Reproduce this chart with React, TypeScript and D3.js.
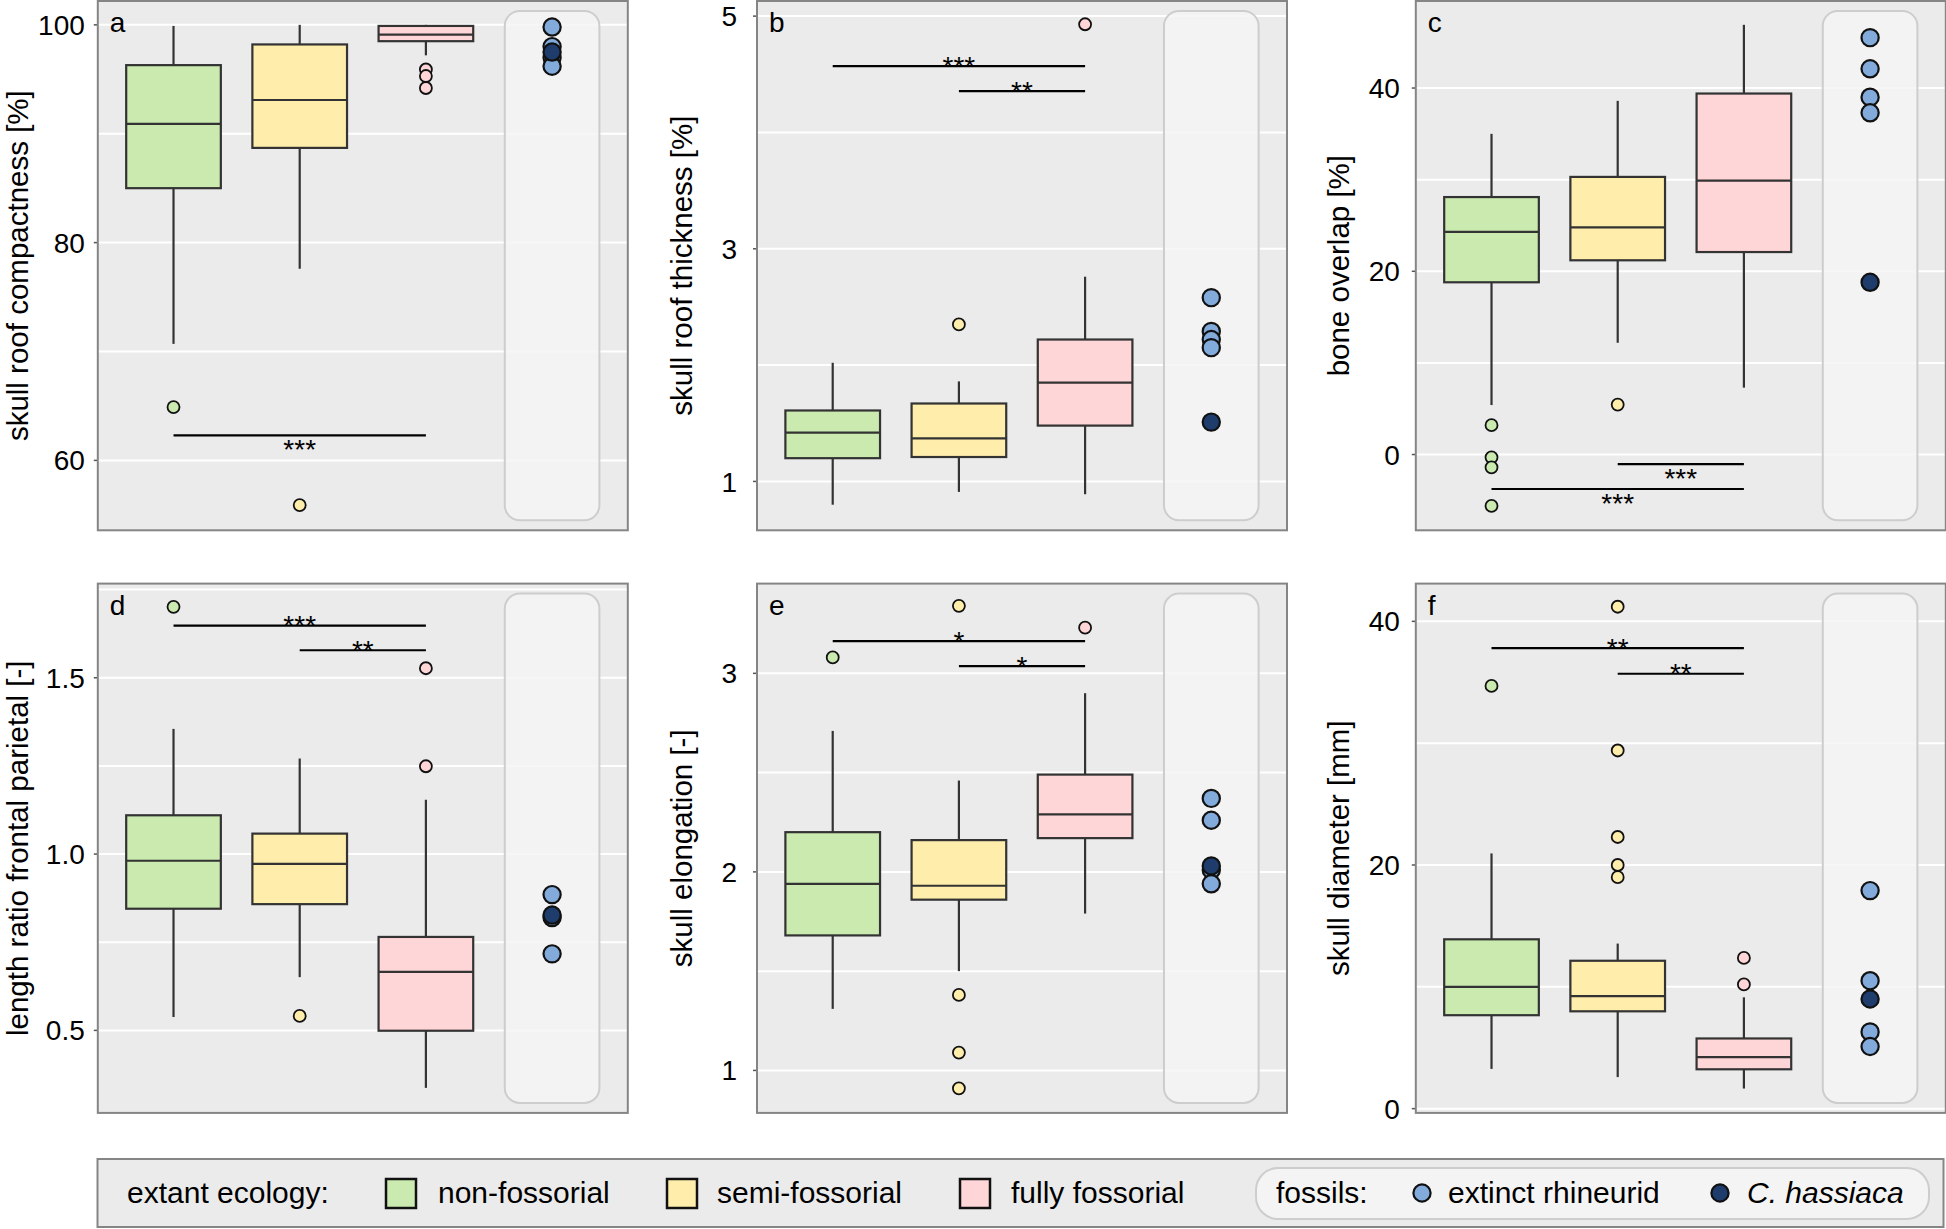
import React from 'react';
import * as d3 from 'd3';

// ---------- data ----------
const groupNames = ['non-fossorial', 'semi-fossorial', 'fully fossorial'];
const groupFills = ['#CAEAB0', '#FFEDAB', '#FFD6D8'];
const extinctColor = '#82AADB';
const hassiacaColor = '#1E3C6C';

const panelLetters = ['a', 'b', 'c', 'd', 'e', 'f'];
const yTitles = [
  'skull roof compactness [%]',
  'skull roof thickness [%]',
  'bone overlap [%]',
  'length ratio frontal parietal [-]',
  'skull elongation [-]',
  'skull diameter [mm]',
];
const yDomains = [
  [53.58, 102.19],
  [0.58, 5.13],
  [-8.27, 49.5],
  [0.266, 1.767],
  [0.786, 3.452],
  [-0.35, 43.1],
];
const yTicks = [
  [60, 80, 100],
  [1, 3, 5],
  [0, 20, 40],
  [0.5, 1.0, 1.5],
  [1, 2, 3],
  [0, 20, 40],
];
const yTickLabels = [
  ['60', '80', '100'],
  ['1', '3', '5'],
  ['0', '20', '40'],
  ['0.5', '1.0', '1.5'],
  ['1', '2', '3'],
  ['0', '20', '40'],
];
const yGrid = [
  [60, 70, 80, 90, 100],
  [1, 2, 3, 4, 5],
  [0, 10, 20, 30, 40],
  [0.5, 0.75, 1, 1.25, 1.5, 1.75],
  [1, 1.5, 2, 2.5, 3],
  [0, 10, 20, 30, 40],
];

// box stats per group: [lower whisker, q1, median, q3, upper whisker]
const boxA = [[70.7, 85.0, 90.9, 96.3, 99.9], [77.6, 88.7, 93.1, 98.2, 100.0], [97.2, 98.5, 99.1, 99.9, 100.0]];
const boxB = [[0.80, 1.20, 1.42, 1.61, 2.02], [0.91, 1.21, 1.37, 1.67, 1.86], [0.89, 1.48, 1.85, 2.22, 2.76]];
const boxC = [[5.4, 18.8, 24.3, 28.1, 35.0], [12.2, 21.2, 24.8, 30.3, 38.6], [7.3, 22.1, 29.9, 39.4, 46.9]];
const boxD = [[0.538, 0.845, 0.981, 1.110, 1.355], [0.651, 0.858, 0.972, 1.058, 1.271], [0.337, 0.499, 0.666, 0.765, 1.154]];
const boxE = [[1.31, 1.68, 1.94, 2.20, 2.71], [1.50, 1.86, 1.93, 2.16, 2.46], [1.79, 2.17, 2.29, 2.49, 2.90]];
const boxF = [[3.26, 7.67, 10.0, 13.9, 20.95], [2.59, 7.99, 9.23, 12.14, 13.55], [1.65, 3.23, 4.23, 5.76, 9.14]];

const outA = [[64.9], [55.9], [95.9, 95.3, 94.2]];
const outB = [[], [2.35], [4.93]];
const outC = [[3.2, -0.3, -1.4, -5.6], [5.45], []];
const outD = [[1.701], [0.541], [1.527, 1.249]];
const outE = [[3.08], [3.34, 1.38, 1.09, 0.91], [3.23]];
const outF = [[34.7], [41.2, 29.4, 22.3, 20.0, 19.0], [12.37, 10.2]];

const extinctA = [99.8, 98.0, 97.0, 96.2];
const extinctB = [2.58, 2.29, 2.22, 2.15];
const extinctC = [45.5, 42.1, 39.0, 37.3];
const extinctD = [0.885, 0.82, 0.717];
const extinctE = [2.37, 2.26, 2.01, 1.94];
const extinctF = [17.9, 10.5, 6.3, 5.1];

const hassiacaA = [97.5];
const hassiacaB = [1.51];
const hassiacaC = [18.8];
const hassiacaD = [0.827];
const hassiacaE = [2.03];
const hassiacaF = [9.0];

// significance brackets: group indices (1-based), y value, label, text below line?
const sigA = [{ from: 1, to: 3, y: 62.3, label: '***', below: true }];
const sigB = [{ from: 1, to: 3, y: 4.57, label: '***', below: false }, { from: 2, to: 3, y: 4.355, label: '**', below: false }];
const sigC = [{ from: 2, to: 3, y: -1.05, label: '***', below: true }, { from: 1, to: 3, y: -3.76, label: '***', below: true }];
const sigD = [{ from: 1, to: 3, y: 1.648, label: '***', below: false }, { from: 2, to: 3, y: 1.578, label: '**', below: false }];
const sigE = [{ from: 1, to: 3, y: 3.162, label: '*', below: false }, { from: 2, to: 3, y: 3.036, label: '*', below: false }];
const sigF = [{ from: 1, to: 3, y: 37.8, label: '**', below: false }, { from: 2, to: 3, y: 35.7, label: '**', below: false }];

const boxes = [boxA, boxB, boxC, boxD, boxE, boxF];
const outliers = [outA, outB, outC, outD, outE, outF];
const extincts = [extinctA, extinctB, extinctC, extinctD, extinctE, extinctF];
const hassiacas = [hassiacaA, hassiacaB, hassiacaC, hassiacaD, hassiacaE, hassiacaF];
const sigs = [sigA, sigB, sigC, sigD, sigE, sigF];

// ---------- layout ----------
const W = 1946;
const H = 1229;
const FONT = '"Liberation Sans", Arial, Helvetica, sans-serif';
const colLeft = [97.8, 757, 1415.8];
const rowTop = [1, 583.6];
const panelW = 530;
const panelH = 529.3;
const titleX = [28, 692, 1349];
const tickGap = [13, 20, 16];
const BOXW = 0.75;

function Panel({ i }: { i: number }) {
  const col = i % 3;
  const row = Math.floor(i / 3);
  const left = colLeft[col];
  const top = rowTop[row];
  const x = d3.scaleLinear().domain([0.4, 4.6]).range([left, left + panelW]);
  const y = d3.scaleLinear().domain(yDomains[i]).range([top + panelH, top]);
  const stroke = '#333333';
  const sw = 2.2;
  return (
    <g>
      <rect x={left} y={top} width={panelW} height={panelH} fill="#EBEBEB" />
      {yGrid[i].map((g, k) => (
        <line key={'g' + k} x1={left} x2={left + panelW} y1={y(g)} y2={y(g)} stroke="#FFFFFF" strokeWidth={2} />
      ))}
      <rect
        x={x(4 - BOXW / 2)}
        y={top + 10}
        width={x(4 + BOXW / 2) - x(4 - BOXW / 2)}
        height={panelH - 20}
        rx={15}
        ry={15}
        fill="#F4F4F4"
        fillOpacity={0.85}
        stroke="#CDCDCD"
        strokeWidth={2}
      />
      {boxes[i].map((b, gI) => {
        const cx = x(gI + 1);
        const x0 = x(gI + 1 - BOXW / 2);
        const x1 = x(gI + 1 + BOXW / 2);
        return (
          <g key={'b' + gI}>
            <line x1={cx} x2={cx} y1={y(b[0])} y2={y(b[1])} stroke={stroke} strokeWidth={sw} />
            <line x1={cx} x2={cx} y1={y(b[3])} y2={y(b[4])} stroke={stroke} strokeWidth={sw} />
            <rect x={x0} y={y(b[3])} width={x1 - x0} height={y(b[1]) - y(b[3])} fill={groupFills[gI]} stroke={stroke} strokeWidth={sw} />
            <line x1={x0} x2={x1} y1={y(b[2])} y2={y(b[2])} stroke={stroke} strokeWidth={sw} />
          </g>
        );
      })}
      {outliers[i].map((os, gI) =>
        os.map((o, k) => (
          <circle key={'o' + gI + '-' + k} cx={x(gI + 1)} cy={y(o)} r={6} fill={groupFills[gI]} stroke="#111" strokeWidth={1.8} />
        ))
      )}
      {extincts[i].map((v, k) => (
        <circle key={'e' + k} cx={x(4)} cy={y(v)} r={8.6} fill={extinctColor} stroke="#111" strokeWidth={2.2} />
      ))}
      {hassiacas[i].map((v, k) => (
        <circle key={'h' + k} cx={x(4)} cy={y(v)} r={8.6} fill={hassiacaColor} stroke="#111" strokeWidth={2.2} />
      ))}
      {sigs[i].map((s, k) => (
        <g key={'s' + k}>
          <line x1={x(s.from)} x2={x(s.to)} y1={y(s.y)} y2={y(s.y)} stroke="#000" strokeWidth={2.2} />
          <text
            x={(x(s.from) + x(s.to)) / 2}
            y={y(s.y) + (s.below ? 24 : 9.5)}
            textAnchor="middle"
            fontFamily={FONT}
            fontSize={28}
            fill="#000"
          >
            {s.label}
          </text>
        </g>
      ))}
      <text x={left + 12} y={top + 31} fontFamily={FONT} fontSize={28} fill="#000">
        {panelLetters[i]}
      </text>
      {yTicks[i].map((t, k) => (
        <g key={'t' + k}>
          <line x1={left - 4} x2={left} y1={y(t)} y2={y(t)} stroke="#555" strokeWidth={1.5} />
          <text x={left - tickGap[col]} y={y(t)} dy="0.36em" textAnchor="end" fontFamily={FONT} fontSize={28} fill="#000">
            {yTickLabels[i][k]}
          </text>
        </g>
      ))}
      <text
        transform={`translate(${titleX[col]},${top + panelH / 2}) rotate(-90)`}
        textAnchor="middle"
        fontFamily={FONT}
        fontSize={29.5}
        fill="#000"
      >
        {yTitles[i]}
      </text>
      <rect x={left} y={top} width={panelW} height={panelH} fill="none" stroke="#858585" strokeWidth={2} />
    </g>
  );
}

function Legend() {
  const fs = 30;
  const base = 1203;
  const sqX = [386, 667, 960];
  const lblX = [438, 717, 1011];
  return (
    <g fontFamily={FONT} fontSize={fs} fill="#000">
      <rect x={97.5} y={1159} width={1846} height={68} fill="#EBEBEB" stroke="#858585" strokeWidth={2} />
      <text x={127} y={base}>extant ecology:</text>
      {groupNames.map((g, k) => (
        <g key={g}>
          <rect x={sqX[k]} y={1179} width={30} height={29} fill={groupFills[k]} stroke="#111" strokeWidth={2.5} />
          <text x={lblX[k]} y={base}>{g}</text>
        </g>
      ))}
      <rect x={1256} y={1168} width={673} height={51} rx={22} ry={22} fill="#F4F4F4" stroke="#CDCDCD" strokeWidth={2} />
      <text x={1276} y={base}>fossils:</text>
      <circle cx={1422} cy={1193} r={8.6} fill={extinctColor} stroke="#111" strokeWidth={2.2} />
      <text x={1448} y={base}>extinct rhineurid</text>
      <circle cx={1720} cy={1193} r={8.6} fill={hassiacaColor} stroke="#111" strokeWidth={2.2} />
      <text x={1747} y={base} fontStyle="italic">C. hassiaca</text>
    </g>
  );
}

export default function App() {
  return (
    <svg
      width={W}
      height={H}
      viewBox={`0 0 ${W} ${H}`}
      style={{ position: 'absolute', left: 0, top: 0, background: '#FFFFFF' }}
    >
      <rect x={0} y={0} width={W} height={H} fill="#FFFFFF" />
      {panelLetters.map((_, i) => (
        <Panel key={i} i={i} />
      ))}
      <Legend />
    </svg>
  );
}
